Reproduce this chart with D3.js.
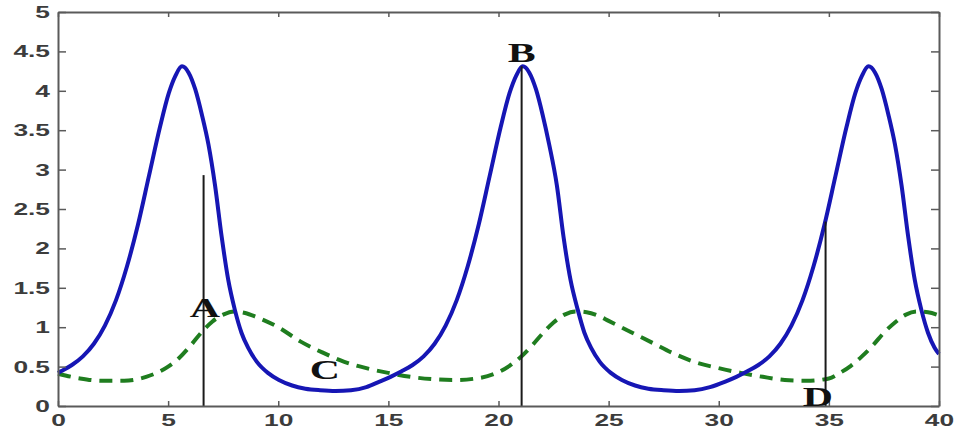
<!DOCTYPE html>
<html>
<head>
<meta charset="utf-8">
<script src="https://cdn.jsdelivr.net/npm/d3@7"></script>
<style>
  html, body { margin: 0; padding: 0; background: #ffffff; }
  svg { display: block; }
</style>
</head>
<body>
<svg id="chart" width="954" height="431"></svg>
<script>
// ---- data ----
const xTicks = [0, 5, 10, 15, 20, 25, 30, 35, 40];
const xTickLabels = ["0", "5", "10", "15", "20", "25", "30", "35", "40"];
const yTicks = [0, 0.5, 1, 1.5, 2, 2.5, 3, 3.5, 4, 4.5, 5];
const yTickLabels = ["0", "0.5", "1", "1.5", "2", "2.5", "3", "3.5", "4", "4.5", "5"];

// solid blue series
const blueX = [0, 0.13, 0.63, 1.13, 1.63, 2.13, 2.63, 3.13, 3.63, 4.13, 4.63, 5.03, 5.33, 5.63,
  5.93, 6.23, 6.53, 6.83, 7.13, 7.43, 7.73, 8.03, 8.33, 8.63, 9.03, 9.53, 10.03, 10.63, 11.23,
  11.9, 12.6, 13.3, 14.0, 14.6, 15.1, 15.6, 16.1, 16.6, 17.1, 17.6, 18.1, 18.6, 19.1, 19.6, 20.1, 20.5, 20.8, 21.1,
  21.4, 21.7, 22.0, 22.3, 22.65, 22.95, 23.27, 23.6, 23.9, 24.2, 24.6, 25.1, 25.6, 26.2, 26.8,
  27.5, 28.2, 28.9, 29.6, 30.3, 30.8, 31.3, 31.8, 32.3, 32.8, 33.3, 33.8, 34.3, 34.8, 35.3, 35.8, 36.2, 36.5, 36.8,
  37.1, 37.4, 37.7, 38.0, 38.3, 38.6, 38.9, 39.2, 39.5, 39.8, 40.0];
const blueY = [0.42, 0.44, 0.52, 0.63, 0.79, 1.02, 1.34, 1.77, 2.30, 2.92, 3.54, 3.97, 4.19, 4.31,
  4.23, 4.02, 3.70, 3.32, 2.80, 2.15, 1.60, 1.22, 0.93, 0.74, 0.56, 0.42, 0.33, 0.26, 0.22,
  0.20, 0.19, 0.20, 0.24, 0.31, 0.37, 0.44, 0.52, 0.63, 0.79, 1.02, 1.34, 1.77, 2.30, 2.92, 3.54, 3.97, 4.19, 4.31,
  4.23, 4.02, 3.70, 3.32, 2.80, 2.15, 1.60, 1.22, 0.93, 0.74, 0.56, 0.42, 0.33, 0.26, 0.22,
  0.20, 0.19, 0.20, 0.24, 0.31, 0.37, 0.44, 0.52, 0.63, 0.79, 1.02, 1.34, 1.77, 2.30, 2.92, 3.54, 3.97, 4.19, 4.31,
  4.23, 4.02, 3.70, 3.32, 2.80, 2.15, 1.60, 1.22, 0.93, 0.74, 0.66];

// dashed green series
const greenX = [0, 1, 2, 3, 4, 5, 5.5, 6, 6.5, 7, 7.5, 8, 8.5, 9, 10, 11, 12, 13, 14, 15, 16, 17, 18, 19, 20, 20.5,
  21, 21.5, 22, 22.5, 23, 23.5, 24, 24.5, 25, 26, 27, 28, 29, 30, 31, 32, 33, 34, 35, 35.5, 36, 36.5, 37, 37.5,
  38, 38.5, 39, 39.5, 40];
const greenY = [0.41, 0.35, 0.32, 0.32, 0.37, 0.50, 0.61, 0.76, 0.93, 1.07, 1.16, 1.20, 1.18, 1.13, 1.00, 0.82, 0.68, 0.56, 0.48, 0.42, 0.37, 0.34, 0.33, 0.35, 0.43, 0.51,
  0.62, 0.76, 0.92, 1.06, 1.16, 1.20, 1.19, 1.15, 1.08, 0.94, 0.80, 0.66, 0.55, 0.48, 0.42, 0.37, 0.33, 0.32, 0.35, 0.42, 0.51, 0.63, 0.77, 0.93,
  1.06, 1.16, 1.20, 1.19, 1.15];

// vertical marker lines
const markerX = [6.61, 21.05, 34.85];
const markerTop = [2.93, 4.31, 2.34];

// letter annotations (centre positions in data units)
const labelText = ["A", "B", "C", "D"];
const labelX = [6.67, 21.05, 12.12, 34.5];
const labelY = [1.24, 4.48, 0.46, 0.11];

// ---- drawing ----
const svg = d3.select("#chart");
const plotLeft = 58, plotRight = 939, plotTop = 12, plotBottom = 406;
const x = d3.scaleLinear().domain([0, 40]).range([plotLeft, plotRight]);
const y = d3.scaleLinear().domain([0, 5]).range([plotBottom, plotTop]);
const stretch = 1.55;

const axisColor = "#5a5a5a";
const labelColor = "#3c3c3c";

function styleAxis(g) {
  g.select(".domain").attr("stroke", axisColor).attr("stroke-width", 2);
  g.selectAll(".tick line").attr("stroke", axisColor).attr("stroke-width", 1.5);
  g.selectAll(".tick text")
    .attr("fill", labelColor)
    .attr("font-family", "'Liberation Sans', Arial, sans-serif")
    .attr("font-size", 17)
    .attr("font-weight", "bold");
}

// green dashed
const lineGen = d3.line().curve(d3.curveMonotoneX);
svg.append("path")
  .attr("d", lineGen(greenX.map((v, i) => [x(v), y(greenY[i])])))
  .attr("fill", "none")
  .attr("stroke", "#1f7d1f")
  .attr("stroke-width", 4)
  .attr("stroke-dasharray", "13,8");

// blue solid
svg.append("path")
  .attr("d", lineGen(blueX.map((v, i) => [x(v), y(blueY[i])])))
  .attr("fill", "none")
  .attr("stroke", "#1616b4")
  .attr("stroke-width", 4)
  .attr("stroke-linejoin", "round");

// vertical marker lines
svg.selectAll("line.marker")
  .data(markerX)
  .join("line")
  .attr("class", "marker")
  .attr("x1", d => x(d)).attr("x2", d => x(d))
  .attr("y1", y(0)).attr("y2", (d, i) => y(markerTop[i]))
  .attr("stroke", "#1a1a1a")
  .attr("stroke-width", 2);

// axes
const gx = svg.append("g").attr("transform", `translate(0,${plotBottom})`)
  .call(d3.axisBottom(x).tickValues(xTicks).tickFormat((d, i) => xTickLabels[i])
    .tickSize(-5).tickSizeOuter(0).tickPadding(8));
styleAxis(gx);
gx.selectAll(".tick text").attr("transform", `scale(${stretch},1)`);

const gy = svg.append("g").attr("transform", `translate(${plotLeft},0)`)
  .call(d3.axisLeft(y).tickValues(yTicks).tickFormat((d, i) => yTickLabels[i])
    .tickSize(-8).tickSizeOuter(0).tickPadding(8));
styleAxis(gy);
gy.selectAll(".tick text")
  .attr("x", -8 / stretch)
  .attr("transform", `scale(${stretch},1)`);

const gt = svg.append("g").attr("transform", `translate(0,${plotTop})`)
  .call(d3.axisTop(x).tickValues(xTicks).tickFormat("").tickSize(-5).tickSizeOuter(0));
styleAxis(gt);

const gr = svg.append("g").attr("transform", `translate(${plotRight},0)`)
  .call(d3.axisRight(y).tickValues(yTicks).tickFormat("").tickSize(-8).tickSizeOuter(0));
styleAxis(gr);

// letter labels
svg.selectAll("text.letter")
  .data(labelText)
  .join("text")
  .attr("class", "letter")
  .attr("transform", (d, i) => `translate(${x(labelX[i])},${y(labelY[i]) + 9}) scale(${stretch},1)`)
  .attr("text-anchor", "middle")
  .attr("font-family", "'Liberation Serif', 'Times New Roman', serif")
  .attr("font-weight", "bold")
  .attr("font-size", 27)
  .attr("fill", "#111")
  .text(d => d);
</script>
</body>
</html>
